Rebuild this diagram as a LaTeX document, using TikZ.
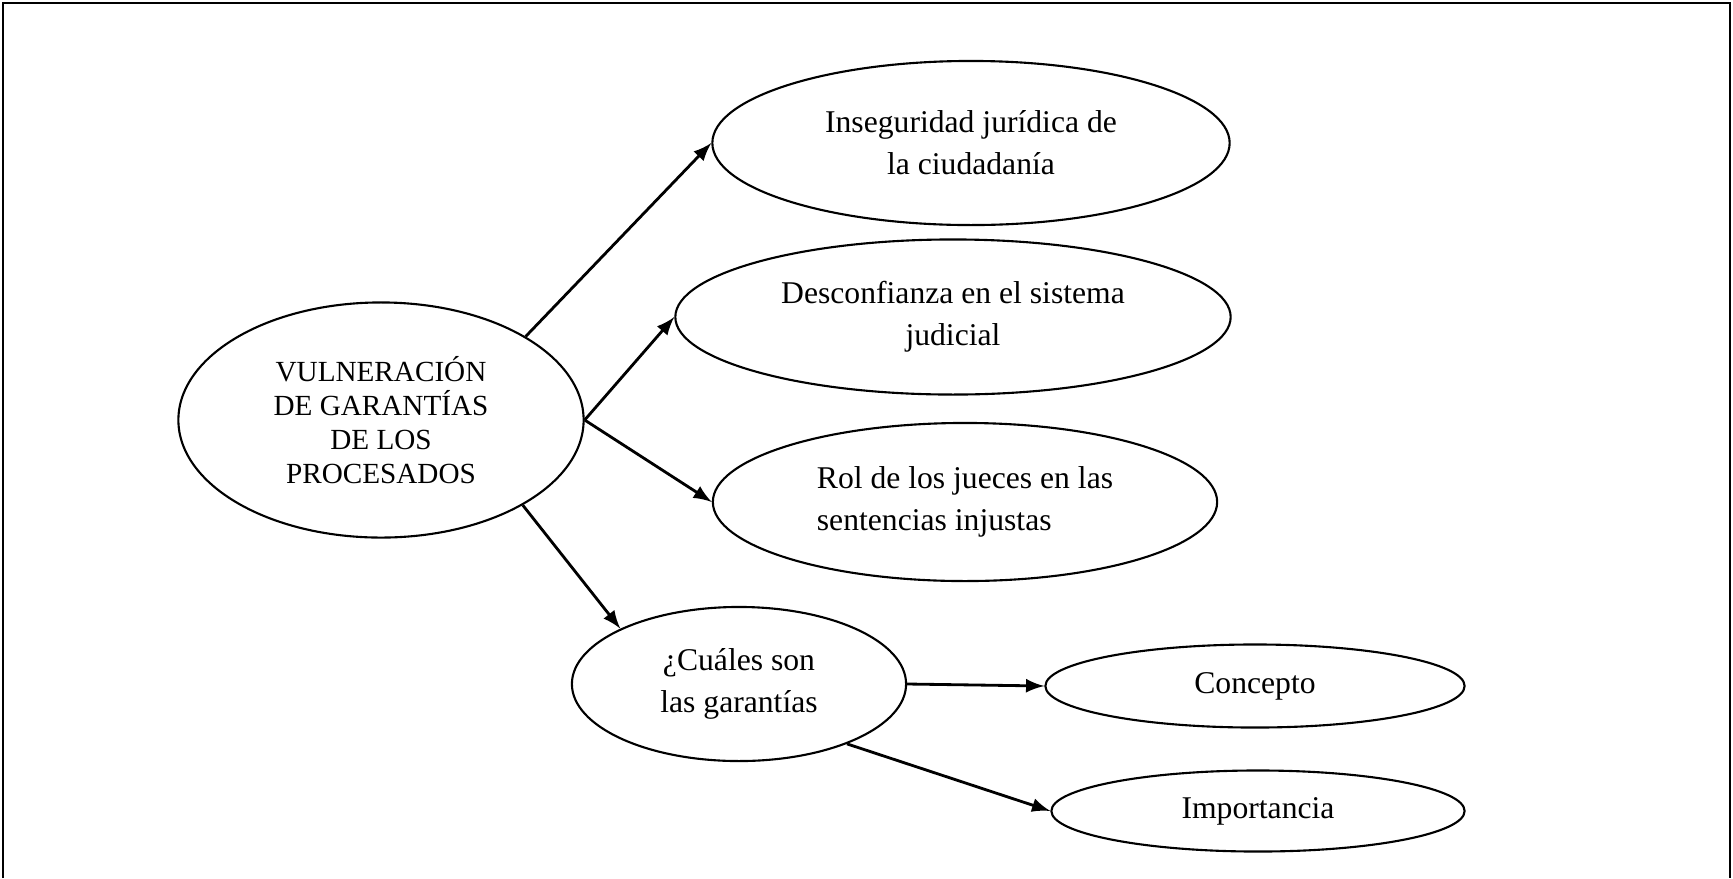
\documentclass[tikz,border=0pt]{standalone}
\usepackage{fontspec}
\setmainfont{Liberation Serif}
\usepackage{tikz}
\usetikzlibrary{positioning}
\usetikzlibrary{calc}
\usetikzlibrary{shapes.geometric, arrows, positioning}

\begin{document}
\begin{tikzpicture} [x=0.01cm, y=-0.01cm,
    bubble/.style={draw, ellipse, line width=0.6pt, inner sep=0pt, align=center,
        font=\fontsize{9}{12}\selectfont},
    link/.style={-latex, line width=0.8pt}]
    % Map of the effects of the vulnerated guarantees of the accused
    \useasboundingbox (0, 0) rectangle (1733, 878);
    \draw[line width=0.7pt] (3, 878) -- (3, 3) -- (1730, 3) -- (1730, 878);

    \node (VG) [bubble, minimum width=4.05cm, minimum height=2.35cm,
        font=\fontsize{8.3}{9.6}\selectfont] at (381, 420) {VULNERACIÓN\\DE GARANTÍAS\\DE LOS\\PROCESADOS};
    \node (IJ) [bubble, minimum width=5.17cm, minimum height=1.64cm] at (971, 143) {Inseguridad jurídica de\\la ciudadanía};
    \node (DS) [bubble, minimum width=5.55cm, minimum height=1.55cm] at (953, 317) {Desconfianza en el sistema\\judicial};
    \node (RJ) [bubble, minimum width=5.04cm, minimum height=1.58cm, align=left] at (965, 502) {Rol de los jueces en las\\sentencias injustas};
    \node (CG) [bubble, minimum width=3.34cm, minimum height=1.54cm] at (739, 684) {¿Cuáles son\\las garantías};
    \node (CO) [bubble, minimum width=4.19cm, minimum height=0.83cm] at (1255, 686) {Concepto};
    \node (IM) [bubble, minimum width=4.13cm, minimum height=0.81cm] at (1258, 811) {Importancia};

    \draw[link] (VG.30) -- (IJ.west);
    \draw[link] (VG.east) -- (DS.west);
    \draw[link] (VG.east) -- (RJ.west);
    \draw[link] (VG.-31) -- (CG.155);
    \draw[link] (CG.east) -- (CO.west);
    \draw[link] (CG.-29) -- (IM.west);

\end{tikzpicture}
\end{document}
